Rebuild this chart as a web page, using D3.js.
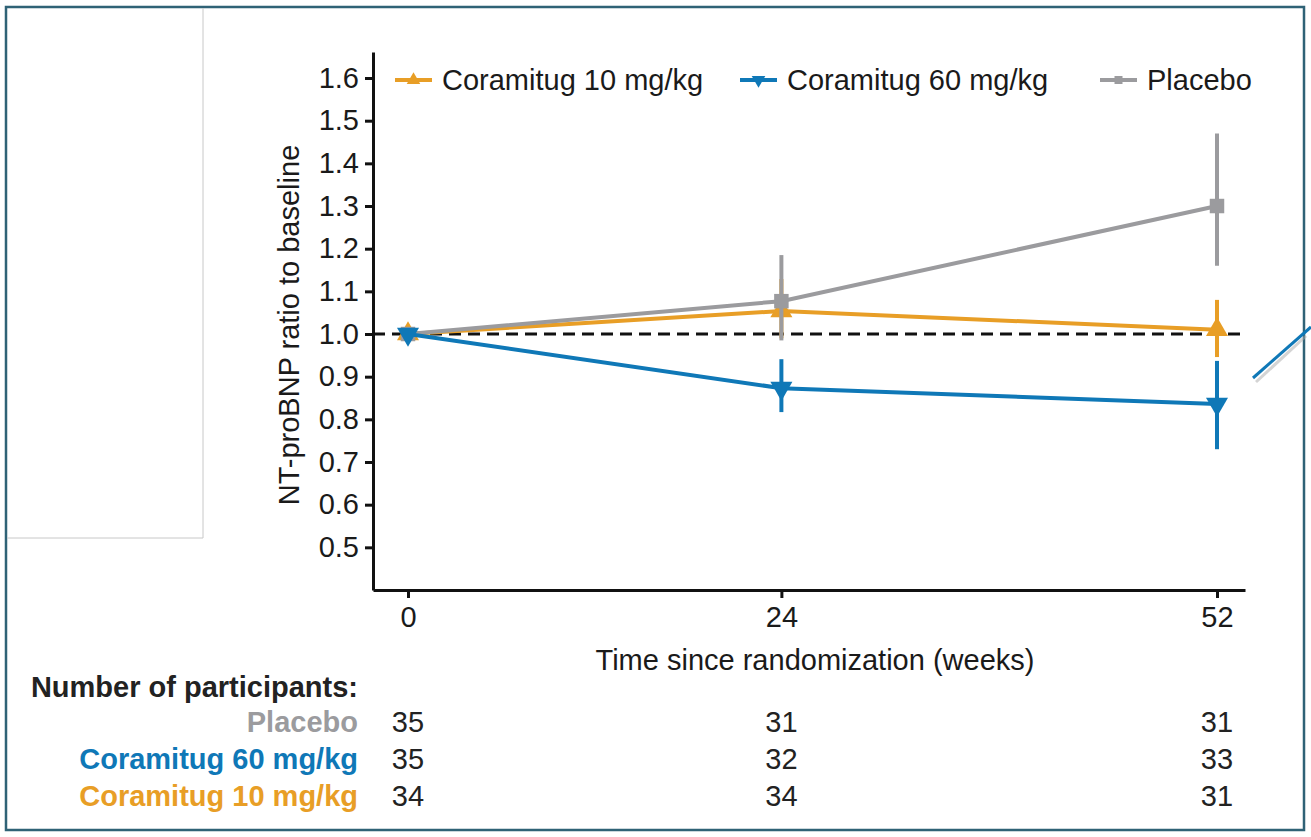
<!DOCTYPE html>
<html>
<head>
<meta charset="utf-8">
<script src="https://cdn.jsdelivr.net/npm/d3@7"></script>
<style>
  body { margin: 0; background: #fff; }
  svg { display: block; font-family: "Liberation Sans", Arial, sans-serif; }
</style>
</head>
<body>
<div id="canvas"></div>
<script>
// data
var weeks = [0, 24, 52];
var yTicks = [0.5, 0.6, 0.7, 0.8, 0.9, 1.0, 1.1, 1.2, 1.3, 1.4, 1.5, 1.6];

var seriesNames = ["Coramitug 10 mg/kg", "Coramitug 60 mg/kg", "Placebo"];
var low10 = [1.0, 0.99, 0.946], mean10 = [1.0, 1.054, 1.01], high10 = [1.0, 1.129, 1.08];
var low60 = [1.0, 0.817, 0.73], mean60 = [1.0, 0.873, 0.836], high60 = [1.0, 0.941, 0.937];
var lowPl = [1.0, 0.985, 1.16], meanPl = [1.0, 1.077, 1.30], highPl = [1.0, 1.185, 1.47];

var tableRows = ["Placebo", "Coramitug 60 mg/kg", "Coramitug 10 mg/kg"];
var nPlacebo = [35, 31, 31];
var n60 = [35, 32, 33];
var n10 = [34, 34, 31];

var orange = "#e89e26", blue = "#0f78b7", gray = "#9b9b9e";

var svg = d3.select("#canvas").append("svg")
    .attr("width", 1311)
    .attr("height", 837);

// frame + left box
svg.append("rect").attr("x", 6).attr("y", 7).attr("width", 1298).attr("height", 823)
    .attr("fill", "none").attr("stroke", "#2f6276").attr("stroke-width", 2.5);
svg.append("path").attr("d", "M203,8 V538 H7")
    .attr("fill", "none").attr("stroke", "#c8c8c8").attr("stroke-width", 1);

var x = d3.scaleLinear().domain([-2.25, 53.8]).range([373, 1245]);
var y = d3.scaleLinear().domain([0.4, 1.661]).range([590, 52]);

// axes
var yAxis = svg.append("g").attr("transform", "translate(373,0)")
    .call(d3.axisLeft(y).tickValues(yTicks).tickFormat(d3.format(".1f")).tickSize(8).tickSizeOuter(0).tickPadding(6));
var xAxis = svg.append("g").attr("transform", "translate(0,590)")
    .call(d3.axisBottom(x).tickValues(weeks).tickSize(8).tickSizeOuter(0).tickPadding(8));

[yAxis, xAxis].forEach(function (a) {
    a.select(".domain").attr("stroke", "#111").attr("stroke-width", 3);
    a.selectAll(".tick line").attr("stroke", "#111").attr("stroke-width", 3);
    a.selectAll(".tick text").attr("fill", "#1a1a1a")
        .style("font-size", "29px").style("font-family", "Liberation Sans, Arial, sans-serif");
});

svg.append("text").attr("transform", "translate(299,325) rotate(-90)")
    .attr("text-anchor", "middle").attr("fill", "#1a1a1a").style("font-size", "29px")
    .text("NT-proBNP ratio to baseline");
svg.append("text").attr("x", 815).attr("y", 670)
    .attr("text-anchor", "middle").attr("fill", "#1a1a1a").style("font-size", "29px")
    .text("Time since randomization (weeks)");

// reference line at 1.0
svg.append("line")
    .attr("x1", 373).attr("x2", 1245).attr("y1", y(1)).attr("y2", y(1))
    .attr("stroke", "#111").attr("stroke-width", 3).attr("stroke-dasharray", "12,7");

var tri = d3.symbol().type(d3.symbolTriangle).size(210);
var sq = d3.symbol().type(d3.symbolSquare).size(210);

function drawSeries(mean, low, high, color, shape, rot) {
    var g = svg.append("g");
    var pts = weeks.map(function (w, i) { return { w: w, m: mean[i], lo: low[i], hi: high[i] }; });
    g.append("path").datum(pts)
        .attr("d", d3.line().x(function (d) { return x(d.w); }).y(function (d) { return y(d.m); }))
        .attr("fill", "none").attr("stroke", color).attr("stroke-width", 4);
    g.selectAll(".err").data(pts.filter(function (d) { return d.hi > d.lo; })).enter().append("line")
        .attr("x1", function (d) { return x(d.w); }).attr("x2", function (d) { return x(d.w); })
        .attr("y1", function (d) { return y(d.lo); }).attr("y2", function (d) { return y(d.hi); })
        .attr("stroke", color).attr("stroke-width", 4);
    g.selectAll(".mk").data(pts).enter().append("path")
        .attr("d", shape)
        .attr("transform", function (d) { return "translate(" + x(d.w) + "," + y(d.m) + ") rotate(" + rot + ")"; })
        .attr("fill", color);
}

drawSeries(mean10, low10, high10, orange, tri, 0);
drawSeries(meanPl, lowPl, highPl, gray, sq, 0);
drawSeries(mean60, low60, high60, blue, tri, 180);

// legend
var legendX = [395, 740, 1100];
var legendColors = [orange, blue, gray];
var legendShapes = [d3.symbol().type(d3.symbolTriangle).size(80), d3.symbol().type(d3.symbolTriangle).size(80), d3.symbol().type(d3.symbolSquare).size(64)];
var legendRot = [0, 180, 0];
seriesNames.forEach(function (name, i) {
    var lg = svg.append("g").attr("transform", "translate(" + legendX[i] + ",80)");
    lg.append("line").attr("x1", 0).attr("x2", 37).attr("stroke", legendColors[i]).attr("stroke-width", 4);
    lg.append("path").attr("d", legendShapes[i]).attr("transform", "translate(18.5,0) rotate(" + legendRot[i] + ")")
        .attr("fill", legendColors[i]);
    lg.append("text").attr("x", 47).attr("y", 10).attr("fill", "#1a1a1a").style("font-size", "29px").text(name);
});

// number at risk table
svg.append("text").attr("x", 358).attr("y", 697).attr("text-anchor", "end")
    .attr("fill", "#222").style("font-size", "29px").style("font-weight", "bold")
    .text("Number of participants:");
var rowColors = [gray, blue, orange];
var rowValues = [nPlacebo, n60, n10];
var rowY = [732, 769, 806];
tableRows.forEach(function (name, r) {
    svg.append("text").attr("x", 358).attr("y", rowY[r]).attr("text-anchor", "end")
        .attr("fill", rowColors[r]).style("font-size", "29px").style("font-weight", "bold").text(name);
    svg.selectAll(".n" + r).data(rowValues[r]).enter().append("text")
        .attr("x", function (d, i) { return x(weeks[i]); }).attr("y", rowY[r])
        .attr("text-anchor", "middle").attr("fill", "#222").style("font-size", "29px")
        .text(function (d) { return d; });
});

// callout line at right edge
svg.append("line").attr("x1", 1256).attr("y1", 382).attr("x2", 1306).attr("y2", 336)
    .attr("stroke", "#aaa").attr("stroke-width", 3).attr("opacity", 0.5);
svg.append("line").attr("x1", 1253).attr("y1", 378).attr("x2", 1311).attr("y2", 327)
    .attr("stroke", blue).attr("stroke-width", 3);
</script>
</body>
</html>
